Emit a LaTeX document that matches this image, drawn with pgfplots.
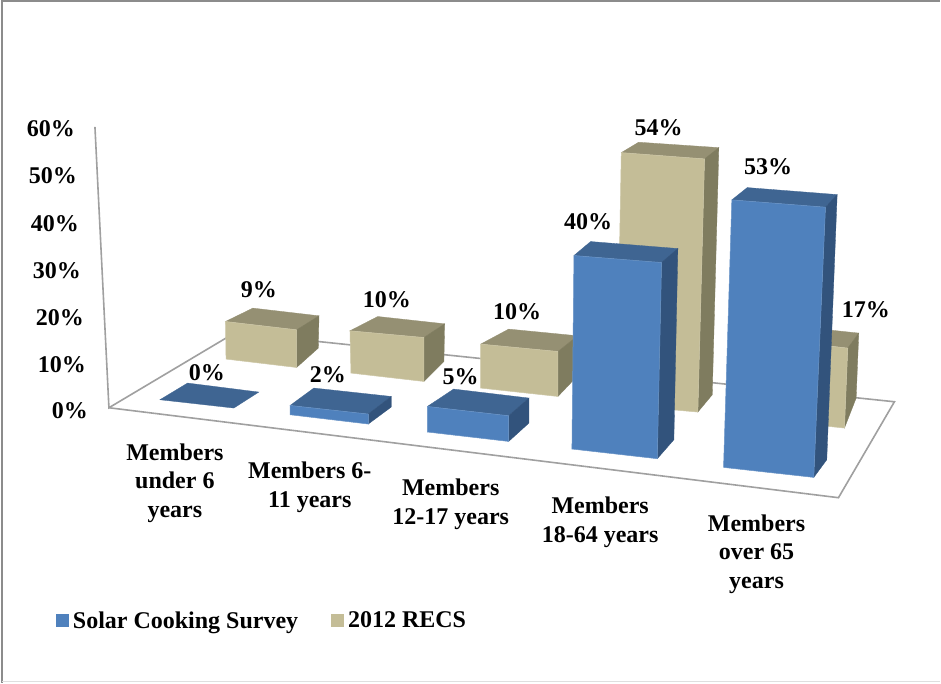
\documentclass[border=0pt]{standalone}
\usepackage{fontspec}
\setmainfont{Liberation Serif}
\usepackage{pgfplots}
\pgfplotsset{compat=1.18}
\definecolor{bf}{HTML}{4F81BD}
\definecolor{bt}{HTML}{3F6592}
\definecolor{bs}{HTML}{32537C}
\definecolor{tf}{HTML}{C4BD97}
\definecolor{tt}{HTML}{959073}
\definecolor{ts}{HTML}{7F7C5F}
\definecolor{gr}{HTML}{A0A0A0}
\tikzset{
  face/.style={fill=#1,draw=#1,line width=0.3pt},
  front/.style={fill=#1,draw=#1!85!white,line width=0.5pt},
  tl/.style={font=\fontsize{24}{28.5}\selectfont\bfseries,inner sep=0pt,align=center}
}
\begin{document}
\begin{tikzpicture}
\begin{axis}[
  scale only axis,width=941pt,height=683pt,
  xmin=0,xmax=941,ymin=0,ymax=683,y dir=reverse,
  hide axis,clip=false,
  legend columns=2,
  legend style={at={(axis cs:56,621)},anchor=west,draw=none,fill=none,inner sep=0pt,outer sep=0pt,
    font=\fontsize{24}{28.5}\selectfont\bfseries,
    /tikz/every even column/.append style={column sep=29pt},
    nodes={inner xsep=4pt,inner ysep=0pt}},
  legend image code/.code={\path[#1,draw=none] (0pt,-6.5pt) rectangle (13pt,6.5pt);},
]
\addplot[fill=white,draw=none,forget plot] coordinates {(0,0)(941,0)(941,683)(0,683)} --cycle;
% frame
\addplot[draw=gray!90,line width=1.2pt,forget plot] coordinates {(2,683)(2,1)(941,1)};
\addplot[draw=gray!25,line width=0.8pt,forget plot] coordinates {(2,682)(941,682)};
% wall and floor
\addplot[draw=gr,line width=1.6pt,forget plot] coordinates {(95,127)(109,408)(235,333)};
\addplot[draw=gr,line width=1.6pt,forget plot] coordinates {(235,333)(895,402)(839,498)(109,408)};
% tan bars
\addplot[face=tt,forget plot] coordinates {(225.6,321.7)(253,308.3)(319.2,316)(296.8,330)} --cycle;
\addplot[face=ts,forget plot] coordinates {(296.8,330)(319.2,316)(318.5,348.3)(296.8,367.7)} --cycle;
\addplot[front=tf,forget plot] coordinates {(225.6,321.7)(296.8,330)(296.8,367.7)(226.2,359.3)} --cycle;
\addplot[face=tt,forget plot] coordinates {(350.2,331)(378,316.7)(444.9,324)(424.2,337.7)} --cycle;
\addplot[face=ts,forget plot] coordinates {(424.2,337.7)(444.9,324)(444.2,361.7)(424.2,381.7)} --cycle;
\addplot[front=tf,forget plot] coordinates {(350.2,331)(424.2,337.7)(424.2,381.7)(351.2,373.3)} --cycle;
\addplot[face=tt,forget plot] coordinates {(481,344.3)(509,329.3)(578,336)(558.3,351.7)} --cycle;
\addplot[face=ts,forget plot] coordinates {(558.3,351.7)(578,336)(578,376)(558.3,396.7)} --cycle;
\addplot[front=tf,forget plot] coordinates {(481,344.3)(558.3,351.7)(558.3,396.7)(481,388.3)} --cycle;
\addplot[face=tt,forget plot] coordinates {(621.7,152.7)(639,142.3)(719.3,147.7)(705,159)} --cycle;
\addplot[face=ts,forget plot] coordinates {(705,159)(719.3,147.7)(712.7,395)(698.3,412.3)} --cycle;
\addplot[front=tf,forget plot] coordinates {(621.7,152.7)(705,159)(698.3,412.3)(617,405)} --cycle;
\addplot[face=tt,forget plot] coordinates {(770,338)(790,326)(859.3,333.3)(848.3,348.3)} --cycle;
\addplot[face=ts,forget plot] coordinates {(848.3,348.3)(859.3,333.3)(856.7,398.3)(845,428.3)} --cycle;
\addplot[front=tf,forget plot] coordinates {(770,340)(848.3,348.3)(845,428.3)(765,420)} --cycle;
% blue bars
\addplot[face=bt,forget plot] coordinates {(160,400)(234,408.3)(259,392.3)(187.7,383.3)} --cycle;
\addplot[face=bt,forget plot] coordinates {(290.3,405.7)(314,388.3)(391.5,396.7)(368.5,414.3)} --cycle;
\addplot[face=bs,forget plot] coordinates {(368.5,414.3)(391.5,396.7)(391.5,407.3)(368.5,424.3)} --cycle;
\addplot[front=bf,forget plot] coordinates {(290.3,405.7)(368.5,414.3)(368.5,424.3)(290.3,415)} --cycle;
\addplot[face=bt,forget plot] coordinates {(427.7,406.7)(453.9,389.3)(529.3,398.3)(509,416)} --cycle;
\addplot[face=bs,forget plot] coordinates {(509,416)(529.3,398.3)(529.3,423.3)(509,441.7)} --cycle;
\addplot[front=bf,forget plot] coordinates {(427.7,406.7)(509,416)(509,441.7)(427.7,432.3)} --cycle;
\addplot[face=bt,forget plot] coordinates {(574.3,255.7)(591,241.7)(678.3,248.7)(662,262.7)} --cycle;
\addplot[face=bs,forget plot] coordinates {(662,262.7)(678.3,248.7)(674.3,440)(657.7,459)} --cycle;
\addplot[front=bf,forget plot] coordinates {(574.3,255.7)(662,262.7)(657.7,459)(572.3,449.3)} --cycle;
\addplot[face=bt,forget plot] coordinates {(732.3,200)(747.7,187.7)(837.7,194.7)(826,207.3)} --cycle;
\addplot[face=bs,forget plot] coordinates {(826,207.3)(837.7,194.7)(827.3,460)(814.3,477.7)} --cycle;
\addplot[front=bf,forget plot] coordinates {(732.3,200)(826,207.3)(814.3,477.7)(724,467.7)} --cycle;
% legend
\addlegendimage{fill=bf,draw=none}\addlegendentry{Solar Cooking Survey}
\addlegendimage{fill=tf,draw=none}\addlegendentry{2012 RECS}
% axis numbers
\node[tl,anchor=east] at (axis cs:75,128.5) {60\%};
\node[tl,anchor=east] at (axis cs:77,176) {50\%};
\node[tl,anchor=east] at (axis cs:79,223.5) {40\%};
\node[tl,anchor=east] at (axis cs:81,271) {30\%};
\node[tl,anchor=east] at (axis cs:84,318) {20\%};
\node[tl,anchor=east] at (axis cs:86,364.5) {10\%};
\node[tl,anchor=east] at (axis cs:88,411) {0\%};
% data labels
\node[tl] at (axis cs:207,373) {0\%};
\node[tl] at (axis cs:328,375) {2\%};
\node[tl] at (axis cs:461,377) {5\%};
\node[tl] at (axis cs:259,290) {9\%};
\node[tl] at (axis cs:387,300) {10\%};
\node[tl] at (axis cs:517.5,312) {10\%};
\node[tl] at (axis cs:659,128) {54\%};
\node[tl] at (axis cs:588.5,222) {40\%};
\node[tl] at (axis cs:768.5,167) {53\%};
\node[tl] at (axis cs:866.5,310) {17\%};
% categories
\node[tl] at (axis cs:175,483.5) {Members\\under 6\\years};
\node[tl] at (axis cs:310,487.5) {Members 6-\\11 years};
\node[tl] at (axis cs:451,504.5) {Members\\12-17 years};
\node[tl] at (axis cs:600.5,522.5) {Members\\18-64 years};
\node[tl] at (axis cs:757,554.5) {Members\\over 65\\years};
\end{axis}
\end{tikzpicture}
\end{document}
